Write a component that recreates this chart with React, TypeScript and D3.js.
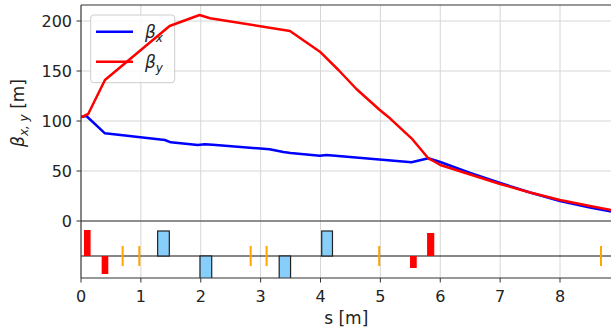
import * as d3 from "d3"

// beta functions
const sX = [0, 0.09, 0.4, 1.4, 1.5, 1.95, 2.07, 2.2, 3.15, 3.38, 3.5, 3.99, 4.1, 5.52, 5.8, 6.0, 6.5, 7.0, 7.5, 8.0, 8.5, 8.86]
const betaX = [104, 105, 87.7, 81, 78.7, 76, 76.7, 76.3, 71.7, 69, 68, 65.3, 66, 58.7, 62.7, 59, 48, 38, 28.5, 20, 13.5, 9.5]
const sY = [0, 0.12, 0.4, 1.48, 1.98, 2.155, 3.49, 3.99, 4.3, 4.6, 4.99, 5.16, 5.52, 5.8, 5.9, 6.0, 6.5, 7.0, 7.5, 8.0, 8.5, 8.86]
const betaY = [103.7, 107, 141, 195, 206, 202.7, 190, 169.3, 151, 132, 111, 102.7, 82.7, 62.7, 59.5, 56, 46.5, 37, 28.5, 21, 15, 11]

// lattice elements: [start, end, strength]
const quads: [number, number, number][] = [
  [0.05, 0.16, 1.04],
  [0.345, 0.456, -0.72],
  [5.495, 5.607, -0.48],
  [5.78, 5.9, 0.92],
]
const dipoles: [number, number, number][] = [
  [1.28, 1.475, 1],
  [1.987, 2.183, -1],
  [3.31, 3.5, -1],
  [4.02, 4.2, 1],
]
const correctors = [0.696, 0.974, 2.834, 3.1, 4.98, 8.685]

const xTicks = [0, 1, 2, 3, 4, 5, 6, 7, 8]
const yTicks = [0, 50, 100, 150, 200]

const FONT = "DejaVu Sans"

export default function App() {
  const left = 81
  const right = 611.5
  const topY0 = 5
  const topY1 = 221
  const botY1 = 278

  const x = d3.scaleLinear().domain([0, 8.86]).range([left, right])
  const y = d3.scaleLinear().domain([0, 216]).range([topY1, topY0])
  const yb = d3.scaleLinear().domain([-0.88, 1.4]).range([botY1, topY1])

  const line = d3
    .line<[number, number]>()
    .x((d) => x(d[0]))
    .y((d) => y(d[1]))

  const ptsX = sX.map((s, i) => [s, betaX[i]] as [number, number])
  const ptsY = sY.map((s, i) => [s, betaY[i]] as [number, number])

  return (
    <svg
      width={611}
      height={331}
      style={{ position: "absolute", left: 0, top: 0, background: "#fff" }}
      fontFamily={FONT}
    >
      <defs>
        <clipPath id="clipTop">
          <rect x={left} y={topY0} width={right - left} height={topY1 - topY0} />
        </clipPath>
        <clipPath id="clipBot">
          <rect x={left} y={topY1} width={right - left} height={botY1 - topY1} />
        </clipPath>
      </defs>

      {/* grid */}
      <g stroke="#d6d6d6" strokeWidth={1}>
        {xTicks.map((t) => (
          <line key={"gx" + t} x1={x(t)} x2={x(t)} y1={topY0} y2={botY1} />
        ))}
        {yTicks.map((t) => (
          <line key={"gy" + t} x1={left} x2={right} y1={y(t)} y2={y(t)} />
        ))}
      </g>

      {/* legend */}
      <g>
        <rect x={90.7} y={15} width={84} height={67.7} rx={3} fill="#fff" fillOpacity={0.8} stroke="#cccccc" />
        <line x1={96} x2={133} y1={31.7} y2={31.7} stroke="#0000ff" strokeWidth={2.5} />
        <line x1={96} x2={133} y1={61.7} y2={61.7} stroke="#ff0000" strokeWidth={2.5} />
        <text x={145} y={37.5} fontSize={17} fill="#222">
          <tspan fontStyle="italic">β</tspan>
          <tspan fontStyle="italic" fontSize={12} dy={4}>x</tspan>
        </text>
        <text x={145} y={67.5} fontSize={17} fill="#222">
          <tspan fontStyle="italic">β</tspan>
          <tspan fontStyle="italic" fontSize={12} dy={4}>y</tspan>
        </text>
      </g>

      {/* beta curves */}
      <g clipPath="url(#clipTop)" fill="none" strokeWidth={2.5} strokeLinejoin="round">
        <path d={line(ptsX) ?? ""} stroke="#0000ff" />
        <path d={line(ptsY) ?? ""} stroke="#ff0000" />
      </g>

      {/* lattice */}
      <g clipPath="url(#clipBot)">
        <line x1={left} x2={right} y1={yb(0)} y2={yb(0)} stroke="#111" strokeWidth={1.2} />
        {dipoles.map(([a, b, k], i) => (
          <rect
            key={"d" + i}
            x={x(a)}
            width={x(b) - x(a)}
            y={Math.min(yb(0), yb(k))}
            height={Math.abs(yb(k) - yb(0))}
            fill="#87cefa"
            stroke="#222"
            strokeWidth={1.2}
          />
        ))}
        {quads.map(([a, b, k], i) => (
          <rect
            key={"q" + i}
            x={x(a)}
            width={x(b) - x(a)}
            y={Math.min(yb(0), yb(k))}
            height={Math.abs(yb(k) - yb(0))}
            fill="#ff0000"
          />
        ))}
        {correctors.map((s, i) => (
          <line key={"c" + i} x1={x(s)} x2={x(s)} y1={yb(0.4)} y2={yb(-0.4)} stroke="#ffa500" strokeWidth={2} />
        ))}
      </g>

      {/* spines */}
      <g stroke="#333" strokeWidth={1.1} fill="none">
        <line x1={left} x2={right} y1={topY0} y2={topY0} />
        <line x1={left} x2={right} y1={topY1} y2={topY1} />
        <line x1={left} x2={right} y1={botY1} y2={botY1} />
        <line x1={left} x2={left} y1={topY0} y2={botY1} />
      </g>

      {/* y ticks */}
      {yTicks.map((t) => (
        <g key={"yt" + t}>
          <line x1={left - 4.5} x2={left} y1={y(t)} y2={y(t)} stroke="#333" strokeWidth={1} />
          <text x={left - 9} y={y(t)} dy="0.36em" textAnchor="end" fontSize={16} fill="#222">
            {t}
          </text>
        </g>
      ))}

      {/* x ticks */}
      {xTicks.map((t) => (
        <g key={"xt" + t}>
          <line x1={x(t)} x2={x(t)} y1={botY1} y2={botY1 + 4.5} stroke="#333" strokeWidth={1} />
          <text x={x(t)} y={302} textAnchor="middle" fontSize={16} fill="#222">
            {t}
          </text>
        </g>
      ))}

      {/* axis labels */}
      <text x={(left + right) / 2} y={324} textAnchor="middle" fontSize={17} fill="#222">
        s [m]
      </text>
      <text transform={`translate(24,${(topY0 + topY1) / 2}) rotate(-90)`} textAnchor="middle" fontSize={17} fill="#222">
        <tspan fontStyle="italic">β</tspan>
        <tspan fontStyle="italic" fontSize={12} dy={4}>x, y</tspan>
        <tspan dy={-4}> [m]</tspan>
      </text>
    </svg>
  )
}
